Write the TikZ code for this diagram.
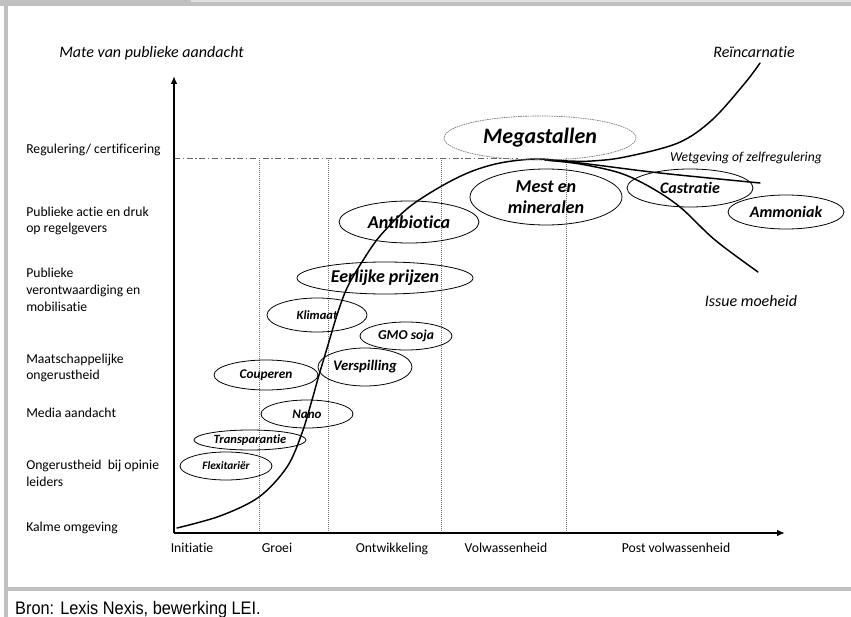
\documentclass[tikz,border=0pt]{standalone}
\usepackage{fontspec}
\setmainfont{Carlito}[Ligatures={NoCommon}]
\newfontfamily\capfont{Liberation Sans}
\usetikzlibrary{arrows.meta,shapes.geometric}
\definecolor{framegray}{HTML}{C0C0C0}
\definecolor{framelight}{HTML}{E2E2E2}
\begin{document}
\begin{tikzpicture}[x=0.75pt,y=-0.75pt,
  lab/.style={anchor=west,inner sep=0pt,align=left,font=\fontsize{10.25}{12.6}\selectfont},
  xlab/.style={anchor=base,inner sep=0pt,font=\fontsize{10.25}{12.3}\selectfont},
  itlab/.style={inner sep=0pt,font=\fontsize{12}{14}\selectfont\itshape},
  issue/.style={ellipse,draw,line width=0.6pt,inner sep=0pt,align=center},
  phase/.style={draw=black!55,line width=0.5pt,dash pattern=on 0.75pt off 0.75pt},
  axis/.style={line width=1.4pt,-{Latex[length=6pt,width=5pt]}},
  curve/.style={line width=1.1pt,line cap=round}
]
\useasboundingbox (0,0) rectangle (851,617);
% frame
\fill[framegray] (0,0) rectangle (851,6);
\fill[framelight] (191,0) rectangle (851,2);
\fill[framegray] (4,0) rectangle (8,617);
\fill[framegray] (4,587) rectangle (851,591);

% phase separators and regulation level
\coordinate (o) at (174,533);
\coordinate (ytop) at (174,76);
\coordinate (xend) at (785,533);
\draw[phase] (259,158) -- (259,533);
\draw[phase] (328,158) -- (328,533);
\draw[phase] (441,158) -- (441,533);
\draw[phase] (566,158) -- (566,533);
\draw[draw=black!60,line width=0.7pt,dash pattern=on 4.5pt off 2pt on 1pt off 2pt] (174,158) -- (518,158);

% axes
\draw[axis] (o) -- (ytop);
\draw[axis] (o) -- (xend);

% titles
\node[itlab,anchor=west] (ytitle) at (59,53) {Mate van publieke aandacht};
\node[itlab] (rein) at (754,52) {Reïncarnatie};
\node[inner sep=0pt,font=\fontsize{10.2}{12}\selectfont\itshape] (wet) at (746,158) {Wetgeving of zelfregulering};
\node[itlab] (moe) at (751,301) {Issue moeheid};

% y labels
\node[lab] (l1) at (26,150) {Regulering/ certificering};
\node[lab] (l2) at (26,221) {Publieke actie en druk\\op regelgevers};
\node[lab] (l3) at (26,290) {Publieke\\verontwaardiging en\\mobilisatie};
\node[lab] (l4) at (26,368) {Maatschappelijke\\ongerustheid};
\node[lab] (l5) at (26,413) {Media aandacht};
\node[lab] (l6) at (26,473) {Ongerustheid\ \ bij opinie\\leiders};
\node[lab] (l7) at (26,528) {Kalme omgeving};

% x labels
\node[xlab] (p1) at (192,552) {Initiatie};
\node[xlab] (p2) at (277,552) {Groei};
\node[xlab] (p3) at (392,552) {Ontwikkeling};
\node[xlab] (p4) at (506,552) {Volwassenheid};
\node[xlab] (p5) at (676,552) {Post volwassenheid};

% curves
\draw[curve] plot[smooth,tension=0.55] coordinates {(177,528) (220,516) (259,497) (287,467) (302,433) (312,400) (319,375) (328,345) (337,315) (347,288) (362,262) (380,236) (408,208) (440,187) (470,172) (500,163) (535,159) (568,161) (592,161) (625,157) (678,143) (712,120) (745,83) (760,63)};
\draw[curve] plot[smooth,tension=0.5] coordinates {(545,160) (580,163) (660,173) (760,183)};
\draw[curve] plot[smooth,tension=0.55] coordinates {(545,160) (580,164) (620,173) (650,187) (680,207) (715,240) (758,272)};

% issues
\node[issue,draw=black!55,line width=0.5pt,dash pattern=on 1.2pt off 0.6pt,minimum width=144pt,minimum height=33pt,font=\fontsize{16.5}{18}\selectfont\bfseries\itshape] (mega) at (540,138) {Megastallen};
\node[issue,minimum width=114pt,minimum height=42pt,font=\fontsize{13.6}{15.5}\selectfont\bfseries\itshape] (mest) at (546,197) {Mest en\\mineralen};
\node[issue,minimum width=94.5pt,minimum height=28.5pt,font=\fontsize{12}{14}\selectfont\bfseries\itshape] (castr) at (690,188) {Castratie};
\node[issue,minimum width=87pt,minimum height=25.5pt,font=\fontsize{12}{14}\selectfont\bfseries\itshape] (ammo) at (786,212) {Ammoniak};
\node[issue,minimum width=105pt,minimum height=31.5pt,font=\fontsize{13.6}{15}\selectfont\bfseries\itshape] (anti) at (409,222) {Antibiotica};
\node[issue,minimum width=132pt,minimum height=24pt,font=\fontsize{13.5}{15}\selectfont\bfseries\itshape] (eerl) at (385,278) {Eerlijke prijzen};
\node[issue,minimum width=75pt,minimum height=25.5pt,font=\fontsize{9.4}{11}\selectfont\bfseries\itshape] (klim) at (317,315) {Klimaat};
\node[issue,minimum width=69pt,minimum height=21pt,font=\fontsize{10.2}{12}\selectfont\bfseries\itshape] (gmo) at (406,336) {GMO soja};
\node[issue,minimum width=70.5pt,minimum height=28.5pt,font=\fontsize{11}{13}\selectfont\bfseries\itshape] (versp) at (365,367) {Verspilling};
\node[issue,minimum width=78pt,minimum height=22.5pt,font=\fontsize{10}{12}\selectfont\bfseries\itshape] (coup) at (266,375) {Couperen};
\node[issue,minimum width=69pt,minimum height=21pt,font=\fontsize{9.75}{11}\selectfont\bfseries\itshape] (nano) at (307,414) {Nano};
\node[issue,minimum width=84pt,minimum height=15pt,font=\fontsize{9.4}{11}\selectfont\bfseries\itshape] (transp) at (250,440) {Transparantie};
\node[issue,minimum width=69pt,minimum height=21pt,font=\fontsize{8.5}{10}\selectfont\bfseries\itshape] (flex) at (226,466) {Flexitariër};

% source
\node[anchor=base west,inner sep=0pt,xscale=0.9,font=\capfont\fontsize{13.6}{15}\selectfont] (bron) at (15,614) {Bron: Lexis Nexis, bewerking LEI.};
\end{tikzpicture}
\end{document}
